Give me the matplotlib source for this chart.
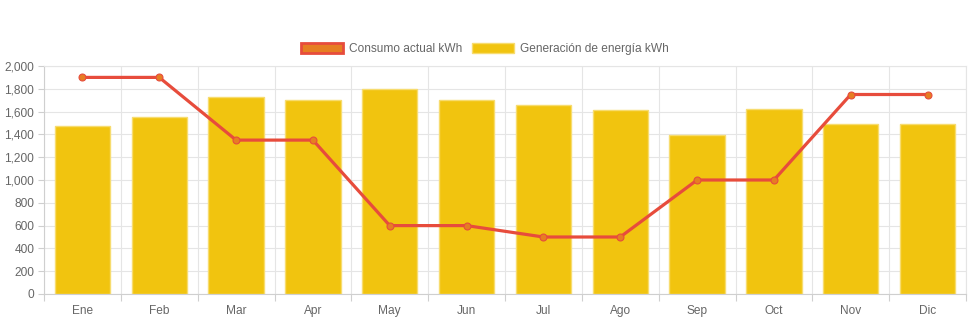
import numpy as np
import matplotlib.pyplot as plt
from matplotlib.patches import Patch
from matplotlib.ticker import FuncFormatter, MultipleLocator

plt.rcParams['font.family'] = ['Liberation Sans', 'DejaVu Sans']

meses = ['Ene', 'Feb', 'Mar', 'Apr', 'May', 'Jun', 'Jul', 'Ago', 'Sep', 'Oct', 'Nov', 'Dic']
consumo = [1900, 1900, 1350, 1350, 600, 600, 500, 500, 1000, 1000, 1750, 1750]
generacion = [1470, 1555, 1725, 1700, 1800, 1700, 1655, 1615, 1395, 1620, 1495, 1490]

txt = '#666666'
grid_c = '#e5e5e5'
axis_c = '#cfcfcf'
fs = 8.6

fig = plt.figure(figsize=(9.71, 3.23), dpi=100)
ax = fig.add_axes([44 / 971, 29 / 323, 922 / 971, 228 / 323])

x = np.arange(len(meses))
ax.bar(x, generacion, width=0.72, color='#f1c40f', edgecolor='#f7dc6f',
       linewidth=1, zorder=2)
ax.plot(x, consumo, color='#e74c3c', linewidth=2.3, marker='o', markersize=5,
        markerfacecolor='#e67e22', markeredgecolor='#e74c3c', markeredgewidth=0.8,
        zorder=3)

ax.set_xlim(-0.5, len(meses) - 0.5)
ax.set_ylim(0, 2000)

# y axis
ax.yaxis.set_major_locator(MultipleLocator(200))
ax.yaxis.set_major_formatter(FuncFormatter(lambda v, p: f'{int(v):,}'))
ax.tick_params(axis='y', length=4, width=0.8, color=axis_c, pad=3,
               labelsize=fs, labelcolor=txt)
ax.grid(axis='y', color=grid_c, linewidth=0.8, zorder=0)

# x axis: labels at centers, ticks + grid at boundaries
ax.set_xticks(x)
ax.set_xticklabels(meses)
ax.tick_params(axis='x', which='major', length=0, pad=8, labelsize=fs, labelcolor=txt)
ax.set_xticks(np.arange(-0.5, len(meses)), minor=True)
ax.tick_params(axis='x', which='minor', length=5, width=0.8, color=axis_c)
ax.grid(axis='x', which='minor', color=grid_c, linewidth=0.8, zorder=0)
ax.set_axisbelow(True)

for s in ['top', 'right']:
    ax.spines[s].set_color(grid_c)
    ax.spines[s].set_linewidth(0.8)
for s in ['left', 'bottom']:
    ax.spines[s].set_color(axis_c)
    ax.spines[s].set_linewidth(0.8)

handles = [
    Patch(facecolor='#e67e22', edgecolor='#e74c3c', linewidth=2, label='Consumo actual kWh'),
    Patch(facecolor='#f1c40f', edgecolor='#f7dc6f', linewidth=1, label='Generación de energía kWh'),
]
fig.legend(handles=handles, loc='center', bbox_to_anchor=(485 / 971, 1 - 49 / 323),
           ncol=2, frameon=False, fontsize=fs, labelcolor=txt,
           handlelength=3.5, handleheight=1.0, handletextpad=0.5, columnspacing=0.8)

fig.savefig('out.png', dpi=100)
